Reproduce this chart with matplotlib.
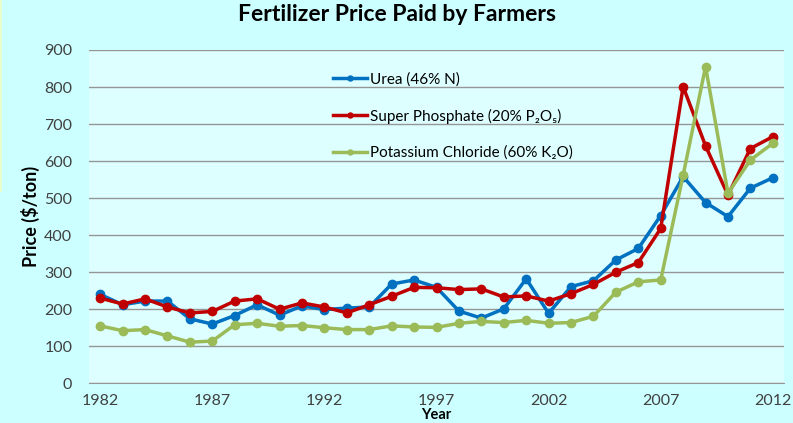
import matplotlib
matplotlib.use('Agg')
import matplotlib.pyplot as plt
from matplotlib.patches import Rectangle

years = list(range(1982, 2013))
urea = [240, 212, 222, 222, 174, 160, 183, 212, 184, 209, 199, 203, 206, 268,
        279, 259, 195, 176, 201, 282, 189, 261, 277, 333, 364, 453, 558, 488,
        450, 527, 555]
super_phosphate = [230, 214, 228, 206, 190, 194, 222, 228, 200, 217, 206, 190,
                   212, 235, 259, 258, 253, 255, 233, 236, 222, 242, 267, 300,
                   326, 418, 801, 641, 508, 634, 666]
potassium = [155, 142, 145, 128, 111, 114, 158, 162, 154, 156, 150, 145, 145,
             155, 152, 151, 162, 167, 164, 170, 162, 164, 181, 246, 274, 279,
             562, 855, 513, 603, 648]
labels = ['Urea (46% N)', 'Super Phosphate (20% P₂O₅)',
          'Potassium Chloride (60% K₂O)']
colors = ['#0070C0', '#C00000', '#9BBB59']

plt.rcParams['font.family'] = ['Lato', 'DejaVu Sans']

fig = plt.figure(figsize=(7.93, 4.23), dpi=100, facecolor='#CCFFFF')
# thin greenish strip at left edge
fig.patches.append(Rectangle((0, 0.545), 0.003, 0.455, transform=fig.transFigure,
                             facecolor='#E6FFCC', edgecolor='none'))
ax = fig.add_axes([0.1122, 0.0939, 0.8765, 0.7879])
ax.set_facecolor('#DDFFFF')

for vals, lab, c in zip([urea, super_phosphate, potassium], labels, colors):
    ax.plot(years, vals, color=c, lw=2.5, marker='o', markersize=6, label=lab)

ax.set_xlim(1981.5, 2012.5)
ax.set_ylim(0, 900)
ax.set_yticks(range(0, 901, 100))
ax.set_xticks(range(1982, 2013, 5))
ax.grid(axis='y', color='#969696', lw=1)
ax.set_axisbelow(True)
for s in ['top', 'right', 'left']:
    ax.spines[s].set_visible(False)
ax.spines['bottom'].set_color('#969696')
ax.tick_params(length=0, labelsize=11.5, colors='#404040')
ax.tick_params(axis='y', pad=12)
ax.tick_params(axis='x', pad=8)

ax.set_ylabel('Price ($/ton)', fontsize=13, fontweight='bold', labelpad=3)
ax.set_xlabel('Year', fontsize=10.5, fontweight='bold', labelpad=0)
fig.suptitle('Fertilizer Price Paid by Farmers', fontsize=16.5,
             fontweight='bold', y=0.99)

leg = ax.legend(loc='upper left', bbox_to_anchor=(0.332, 0.975), frameon=False,
                fontsize=11, labelspacing=1.45, handlelength=2.2,
                handletextpad=0.2, markerscale=0.6)

plt.savefig('out.png', dpi=100, facecolor=fig.get_facecolor())
